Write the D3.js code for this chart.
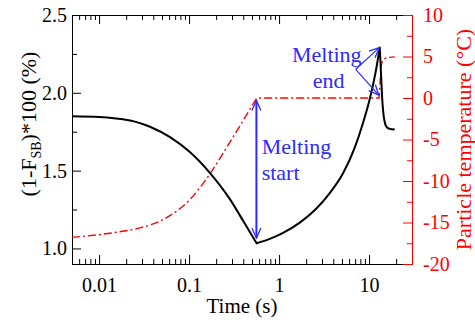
<!DOCTYPE html>
<html>
<head>
<meta charset="utf-8">
<script src="https://cdn.jsdelivr.net/npm/d3@7"></script>
<style>
  body { margin: 0; background: #fff; }
  svg { display: block; font-family: "Liberation Serif", "Times New Roman", serif; }
</style>
</head>
<body>
<div id="chart"></div>
<script>
// black curve: (1-F_SB)*100 vs time
const timeFsb = [0.005, 0.01, 0.0154, 0.0238, 0.0368, 0.0614, 0.102, 0.171, 0.284, 0.40, 0.564,
  0.788, 1.107, 1.70, 2.60, 3.66, 5.14, 6.93, 8.58, 10, 11.07, 12.18, 13.14,
  13.55, 13.94, 14.37, 14.94, 15.73, 16.77, 19.3];
const fsbValues = [1.850, 1.845, 1.835, 1.818, 1.782, 1.715, 1.619, 1.484, 1.317, 1.176, 1.033,
  1.061, 1.100, 1.166, 1.257, 1.356, 1.483, 1.648, 1.808, 1.943, 2.051, 2.174, 2.295,
  2.132, 1.978, 1.876, 1.811, 1.779, 1.769, 1.764];

// red dash-dot curve: particle temperature vs time
const timeTemp = [0.005, 0.0132, 0.0285, 0.0475, 0.0792, 0.102, 0.132, 0.171, 0.284, 0.564,
  12.9, 13.3, 13.74, 14.94, 16.98, 19.3];
const tempValues = [-16.79, -16.29, -15.64, -14.83, -13.32, -12.24, -10.79, -9.11, -5.32, 0,
  0, 2.1, 4.1, 4.75, 4.9, 4.95];

const xMajor = [0.01, 0.1, 1, 10];
const xLabels = ["0.01", "0.1", "1", "10"];
const leftMajor = [1.0, 1.5, 2.0, 2.5];
const leftMinor = [1.25, 1.75, 2.25];
const rightMajor = [-20, -15, -10, -5, 0, 5, 10];
const rightMinor = [-17.5, -12.5, -7.5, -2.5, 2.5, 7.5];

const width = 475;
const height = 324;
const margin = { top: 15, right: 63, bottom: 60, left: 72 };
const blue = "#2b2bff";

const svg = d3.select('#chart')
  .append('svg')
  .attr('width', width)
  .attr('height', height);

const x = d3.scaleLog()
  .domain([0.005, 30])
  .range([margin.left, width - margin.right]);

const yL = d3.scaleLinear()
  .domain([0.9, 2.5])
  .range([height - margin.bottom, margin.top]);

const yR = d3.scaleLinear()
  .domain([-20, 10])
  .range([height - margin.bottom, margin.top]);

const xMinor = x.ticks().filter(t => !xMajor.some(m => Math.abs(m - t) < 1e-9));

// arrow marker (open V)
const defs = svg.append('defs');
defs.append('marker')
  .attr('id', 'arr')
  .attr('viewBox', '-1 -6 12 12')
  .attr('refX', 10)
  .attr('refY', 0)
  .attr('markerWidth', 12)
  .attr('markerHeight', 12)
  .attr('markerUnits', 'userSpaceOnUse')
  .attr('orient', 'auto-start-reverse')
  .append('path')
  .attr('d', 'M0,-4.5L10,0L0,4.5')
  .attr('fill', 'none')
  .attr('stroke', blue)
  .attr('stroke-width', 1.3);

// helper for axes with inner ticks
function styleAxis(g, color) {
  g.selectAll('path').attr('stroke', color);
  g.selectAll('line').attr('stroke', color);
  g.selectAll('text').attr('fill', color).style('font-size', '20px')
    .style('font-family', '"Liberation Serif", "Times New Roman", serif');
}

// bottom axis
const bottomAxis = svg.append('g')
  .attr('transform', `translate(0,${height - margin.bottom})`);
bottomAxis.append('g')
  .call(d3.axisBottom(x).tickValues(xMinor).tickSize(-5).tickSizeOuter(0).tickFormat(''))
  .call(g => styleAxis(g, '#000'));
bottomAxis.append('g')
  .call(d3.axisBottom(x).tickValues(xMajor).tickSize(-9).tickSizeOuter(0).tickPadding(14)
    .tickFormat((d, i) => xLabels[i]))
  .call(g => styleAxis(g, '#000'));

// top axis
const topAxis = svg.append('g')
  .attr('transform', `translate(0,${margin.top})`);
topAxis.append('g')
  .call(d3.axisTop(x).tickValues(xMinor).tickSize(-5).tickSizeOuter(0).tickFormat(''))
  .call(g => styleAxis(g, '#000'));
topAxis.append('g')
  .call(d3.axisTop(x).tickValues(xMajor).tickSize(-9).tickSizeOuter(0).tickFormat(''))
  .call(g => styleAxis(g, '#000'));

// left axis
const leftAxis = svg.append('g')
  .attr('transform', `translate(${margin.left},0)`);
leftAxis.append('g')
  .call(d3.axisLeft(yL).tickValues(leftMinor).tickSize(-5).tickSizeOuter(0).tickFormat(''))
  .call(g => styleAxis(g, '#000'));
leftAxis.append('g')
  .call(d3.axisLeft(yL).tickValues(leftMajor).tickSize(-9).tickSizeOuter(0).tickPadding(5)
    .tickFormat(d3.format('.1f')))
  .call(g => styleAxis(g, '#000'));

// right axis (red)
const rightAxis = svg.append('g')
  .attr('transform', `translate(${width - margin.right},0)`);
rightAxis.append('g')
  .call(d3.axisRight(yR).tickValues(rightMinor).tickSize(-5).tickSizeOuter(0).tickFormat(''))
  .call(g => styleAxis(g, 'red'));
rightAxis.append('g')
  .call(d3.axisRight(yR).tickValues(rightMajor).tickSize(-9).tickSizeOuter(0).tickPadding(11)
    .tickFormat(d => String(d)))
  .call(g => styleAxis(g, 'red'));

// build one path out of smooth pieces, keeping sharp corners at the break indices
function piecewisePath(times, values, yScale, breaks) {
  const line = d3.line()
    .x(d => x(d[0]))
    .y(d => yScale(d[1]))
    .curve(d3.curveMonotoneX);
  const pts = times.map((t, i) => [t, values[i]]);
  const cuts = [0, ...breaks, pts.length - 1];
  let d = '';
  for (let k = 0; k < cuts.length - 1; k++) {
    const seg = line(pts.slice(cuts[k], cuts[k + 1] + 1));
    d += k === 0 ? seg : seg.replace(/^M/, 'L');
  }
  return d;
}

// red temperature line
const firstZero = tempValues.indexOf(0);
const lastZero = tempValues.lastIndexOf(0);
svg.append('path')
  .attr('d', piecewisePath(timeTemp, tempValues, yR, [firstZero, lastZero]))
  .attr('fill', 'none')
  .attr('stroke', 'red')
  .attr('stroke-width', 1.4)
  .attr('stroke-dasharray', '8,3,2,3');

// black F_SB line
const minIdx = d3.minIndex(fsbValues);
const maxIdx = d3.maxIndex(fsbValues);
svg.append('path')
  .attr('d', piecewisePath(timeFsb, fsbValues, yL, [minIdx, maxIdx]))
  .attr('fill', 'none')
  .attr('stroke', '#000')
  .attr('stroke-width', 2)
  .attr('stroke-linejoin', 'miter');

// annotations
const ann = svg.append('g').attr('fill', blue).style('font-size', '22px');

// Melting start: double arrow
svg.append('line')
  .attr('x1', x(0.56)).attr('y1', yR(-0.3))
  .attr('x2', x(0.56)).attr('y2', yL(1.067))
  .attr('stroke', blue)
  .attr('stroke-width', 2)
  .attr('marker-start', 'url(#arr)')
  .attr('marker-end', 'url(#arr)');
ann.append('text').attr('x', x(0.64)).attr('y', yL(1.61)).text('Melting');
ann.append('text').attr('x', x(0.64)).attr('y', yL(1.439)).text('start');

// Melting end: two arrows
svg.append('line')
  .attr('x1', x(7.1)).attr('y1', yL(2.151))
  .attr('x2', x(13.0)).attr('y2', yL(2.29))
  .attr('stroke', blue).attr('stroke-width', 1.2)
  .attr('marker-end', 'url(#arr)');
svg.append('line')
  .attr('x1', x(7.1)).attr('y1', yL(2.151))
  .attr('x2', x(12.8)).attr('y2', yR(0.34))
  .attr('stroke', blue).attr('stroke-width', 1.2)
  .attr('marker-end', 'url(#arr)');
ann.append('text').attr('x', x(3.39)).attr('y', yL(2.198)).attr('text-anchor', 'middle').text('Melting');
ann.append('text').attr('x', x(3.56)).attr('y', yL(2.034)).attr('text-anchor', 'middle').text('end');

// axis titles
const leftTitle = svg.append('text')
  .attr('transform', `translate(36,${124}) rotate(-90)`)
  .attr('text-anchor', 'middle')
  .style('font-size', '22px')
  .attr('fill', '#000');
leftTitle.append('tspan').text('(1-F');
leftTitle.append('tspan').attr('dy', 5).style('font-size', '14px').text('SB');
leftTitle.append('tspan').attr('dy', -5).text(')*100 (%)');

svg.append('text')
  .attr('transform', `translate(471,${(margin.top + height - margin.bottom) / 2}) rotate(-90)`)
  .attr('text-anchor', 'middle')
  .style('font-size', '22px')
  .attr('fill', 'red')
  .text('Particle temperature (°C)');

svg.append('text')
  .attr('x', (margin.left + width - margin.right) / 2)
  .attr('y', 313)
  .attr('text-anchor', 'middle')
  .style('font-size', '21px')
  .attr('fill', '#000')
  .text('Time (s)');
</script>
</body>
</html>
